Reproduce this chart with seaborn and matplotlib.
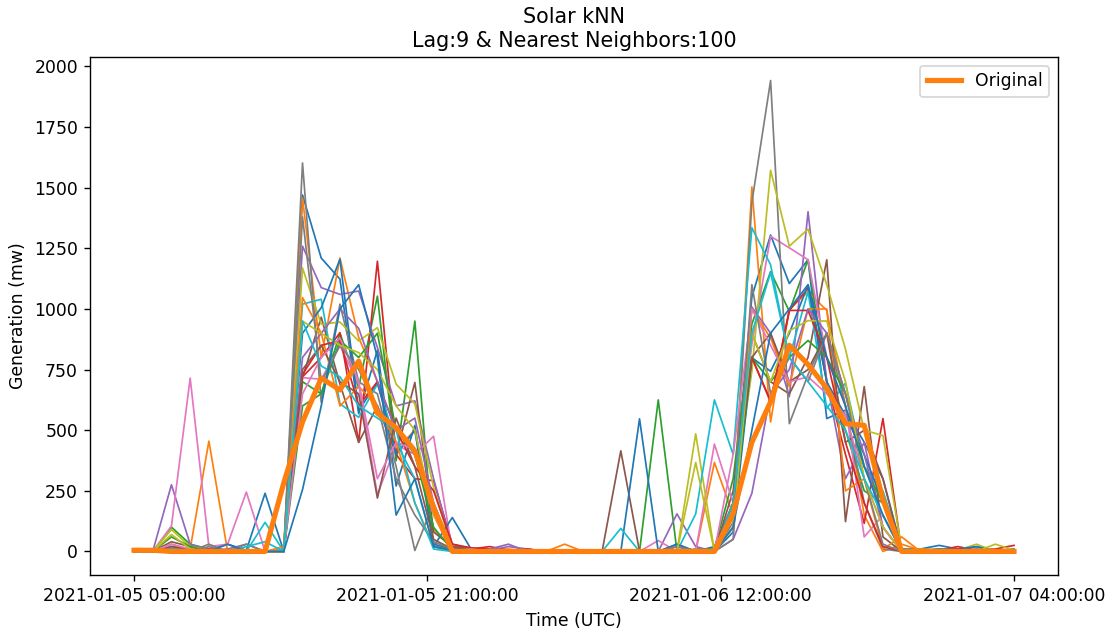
import numpy as np
import pandas as pd
import matplotlib
matplotlib.use("Agg")
import matplotlib.pyplot as plt
import seaborn as sns

# ---- data ----
start_time = "2021-01-05 05:00:00"
n_hours = 48

original = [5, 5, 0, 0, 0, 0, 0, 0,
            283, 534, 715, 666, 785, 570, 510, 415, 180,
            0, 0, 0, 0, 0, 0, 0, 0, 0, 0, 0, 0, 0,
            0, 0, 157, 450, 617, 850, 771, 673, 527, 520, 213, 0,
            0, 0, 0, 0, 0, 0]

nb00 = [0, 0, 10, 5, 5, 30, 5, 240, 0, 1470, 1210, 1123, 568, 830, 270, 520, 30,
        10, 5, 5, 0, 5, 0, 0, 0, 0, 0, 0, 0, 0,
        0, 20, 200, 1050, 1305, 1105, 1203, 548, 583, 450, 300, 10, 10, 25, 10, 20, 5, 10]
nb01 = [0, 0, 5, 10, 455, 0, 0, 0, 10, 1458, 800, 1210, 882, 700, 420, 500, 90,
        20, 10, 5, 10, 0, 0, 5, 0, 0, 0, 0, 0, 0,
        0, 367, 150, 1503, 534, 1000, 1070, 994, 600, 150, 0, 30, 5, 0, 10, 0, 5, 0]
nb02 = [0, 0, 100, 30, 10, 0, 0, 0, 0, 600, 650, 900, 676, 1053, 374, 950, 20,
        10, 10, 5, 5, 0, 0, 5, 0, 0, 0, 0, 625, 0,
        10, 10, 300, 938, 1154, 990, 1203, 700, 500, 250, 200, 10, 0, 10, 5, 0, 5, 0]
nb03 = [0, 0, 5, 0, 10, 0, 0, 0, 0, 720, 800, 902, 450, 1197, 400, 300, 292,
        30, 10, 20, 5, 10, 0, 0, 0, 0, 0, 0, 0, 0,
        0, 0, 150, 799, 617, 994, 1085, 700, 400, 116, 548, 0, 10, 5, 20, 5, 10, 25]
nb04 = [0, 0, 275, 30, 5, 10, 30, 0, 0, 1259, 1088, 1060, 1074, 841, 600, 621, 300,
        20, 10, 5, 20, 10, 0, 0, 0, 0, 0, 0, 0, 155,
        20, 0, 100, 1008, 900, 638, 1401, 700, 300, 450, 100, 0, 5, 10, 0, 5, 0, 5]
nb05 = [0, 0, 40, 20, 5, 0, 5, 0, 0, 717, 966, 690, 450, 600, 400, 697, 80,
        20, 10, 5, 5, 0, 0, 0, 0, 0, 415, 0, 0, 0,
        0, 0, 250, 900, 700, 650, 800, 1203, 123, 680, 60, 0, 0, 5, 0, 10, 0, 5]
nb06 = [0, 0, 105, 715, 20, 30, 245, 0, 0, 717, 710, 848, 690, 234, 440, 400, 475,
        0, 10, 5, 5, 0, 0, 0, 0, 0, 0, 0, 45, 0,
        0, 443, 200, 855, 1300, 1252, 1203, 800, 600, 60, 150, 0, 0, 5, 0, 5, 0, 0]
nb07 = [0, 0, 20, 0, 30, 0, 30, 0, 0, 1602, 615, 1020, 700, 650, 350, 4, 200,
        10, 0, 5, 0, 0, 0, 0, 0, 0, 0, 0, 0, 30,
        0, 0, 120, 1440, 1942, 527, 729, 900, 600, 200, 10, 0, 0, 5, 0, 0, 5, 0]
nb08 = [0, 0, 90, 20, 5, 0, 0, 0, 0, 1169, 937, 946, 868, 923, 690, 609, 265,
        8, 0, 5, 0, 0, 0, 0, 0, 0, 0, 0, 0, 0,
        485, 0, 200, 743, 1572, 1259, 1329, 1100, 834, 500, 478, 10, 0, 10, 5, 30, 0, 5]
nb09 = [0, 0, 20, 5, 0, 0, 0, 120, 0, 1020, 1040, 609, 553, 690, 450, 300, 20,
        0, 10, 0, 5, 0, 0, 0, 0, 0, 0, 0, 0, 0,
        155, 625, 400, 1335, 1182, 799, 1071, 590, 694, 350, 250, 10, 5, 0, 10, 5, 0, 5]
nb10 = [0, 0, 5, 0, 5, 0, 0, 0, 0, 900, 1005, 1205, 580, 700, 400, 500, 20,
        140, 10, 5, 0, 5, 0, 0, 0, 0, 0, 547, 0, 30,
        0, 0, 80, 799, 743, 900, 1100, 700, 560, 400, 200, 10, 0, 5, 10, 20, 0, 5]
nb11 = [0, 0, 30, 5, 0, 0, 5, 0, 20, 1047, 900, 600, 680, 600, 450, 200, 20,
        5, 10, 5, 5, 0, 0, 30, 0, 0, 0, 0, 0, 0,
        0, 0, 100, 1000, 880, 680, 1000, 1000, 250, 300, 10, 60, 0, 5, 0, 0, 5, 0]
nb12 = [0, 0, 60, 20, 0, 0, 0, 0, 0, 700, 650, 870, 800, 900, 500, 400, 100,
        5, 10, 0, 5, 0, 0, 0, 0, 0, 0, 0, 0, 0,
        0, 0, 150, 800, 700, 800, 870, 800, 650, 350, 200, 0, 5, 0, 5, 0, 0, 5]
nb13 = [0, 0, 10, 0, 0, 5, 0, 0, 0, 730, 850, 870, 600, 700, 500, 350, 250,
        30, 15, 10, 0, 10, 0, 0, 0, 0, 0, 0, 0, 0,
        0, 0, 200, 800, 620, 994, 994, 800, 450, 200, 20, 0, 5, 0, 10, 0, 5, 0]
nb14 = [0, 0, 10, 5, 0, 5, 5, 0, 0, 800, 900, 1000, 920, 700, 500, 550, 200,
        10, 0, 10, 30, 0, 0, 0, 0, 0, 0, 0, 0, 20,
        0, 0, 50, 240, 650, 750, 1000, 900, 650, 400, 100, 0, 0, 5, 0, 0, 5, 0]
nb15 = [0, 0, 20, 10, 0, 5, 0, 0, 0, 750, 850, 700, 650, 220, 550, 350, 50,
        10, 5, 0, 5, 0, 0, 0, 0, 0, 0, 0, 0, 0,
        0, 0, 200, 800, 900, 700, 750, 900, 450, 500, 300, 0, 0, 0, 5, 0, 0, 5]
nb16 = [0, 0, 30, 10, 0, 5, 0, 0, 0, 650, 800, 880, 700, 300, 450, 420, 150,
        0, 10, 0, 5, 0, 0, 0, 0, 0, 0, 0, 0, 0,
        0, 0, 400, 1000, 850, 700, 720, 650, 560, 300, 100, 0, 0, 5, 0, 0, 0, 5]
nb17 = [0, 0, 10, 0, 20, 0, 0, 0, 0, 1380, 700, 850, 750, 600, 300, 150, 40,
        10, 0, 5, 0, 0, 0, 0, 0, 0, 0, 0, 0, 20,
        0, 0, 50, 1100, 650, 800, 700, 900, 650, 300, 30, 0, 0, 0, 5, 0, 0, 0]
nb18 = [0, 0, 70, 10, 0, 0, 0, 0, 0, 950, 900, 850, 820, 750, 600, 500, 150,
        5, 0, 5, 0, 0, 0, 0, 0, 0, 0, 0, 0, 0,
        367, 0, 100, 900, 700, 910, 952, 950, 700, 300, 100, 0, 10, 5, 0, 0, 30, 5]
nb19 = [0, 0, 10, 0, 0, 0, 20, 40, 0, 950, 765, 720, 600, 550, 500, 200, 10,
        0, 5, 0, 0, 0, 0, 0, 0, 0, 95, 0, 0, 0,
        0, 0, 200, 900, 1150, 800, 700, 600, 500, 300, 150, 0, 0, 5, 0, 0, 5, 0]
nb20 = [0, 0, 5, 0, 0, 30, 0, 0, 0, 255, 600, 1000, 1100, 800, 150, 300, 20,
        5, 0, 0, 5, 0, 0, 0, 0, 0, 0, 0, 0, 0,
        0, 0, 100, 500, 900, 1000, 1100, 800, 600, 350, 150, 0, 0, 10, 5, 0, 0, 5]

neighbors = [nb00, nb01, nb02, nb03, nb04, nb05, nb06, nb07, nb08, nb09, nb10,
             nb11, nb12, nb13, nb14, nb15, nb16, nb17, nb18, nb19, nb20]

times = pd.date_range(start_time, periods=n_hours, freq="h")
tick_labels = [t.strftime("%Y-%m-%d %H:%M:%S") for t in times]
xpos = np.arange(n_hours)

# ---- plot ----
fig = plt.figure(figsize=(1110 / 124, 628 / 124), dpi=124)
ax = fig.add_axes([90 / 1110, 53 / 628, 968 / 1110, 518 / 628])
palette = sns.color_palette("tab10")

for k, series in enumerate(neighbors):
    sns.lineplot(x=xpos, y=series, ax=ax, color=palette[k % 10], linewidth=1)

sns.lineplot(x=xpos, y=original, ax=ax, color=palette[1], linewidth=3,
             label="Original")

tick_pos = np.linspace(0, n_hours - 1, 4)
ax.set_xticks(tick_pos)
ax.set_xticklabels([tick_labels[int(round(p))] for p in tick_pos])
ax.set_xlabel("Time (UTC)")
ax.set_ylabel("Generation (mw)")
ax.set_title("Solar kNN\nLag:9 & Nearest Neighbors:100")
ax.legend(loc="upper right")

fig.savefig("out.png", dpi=124)
